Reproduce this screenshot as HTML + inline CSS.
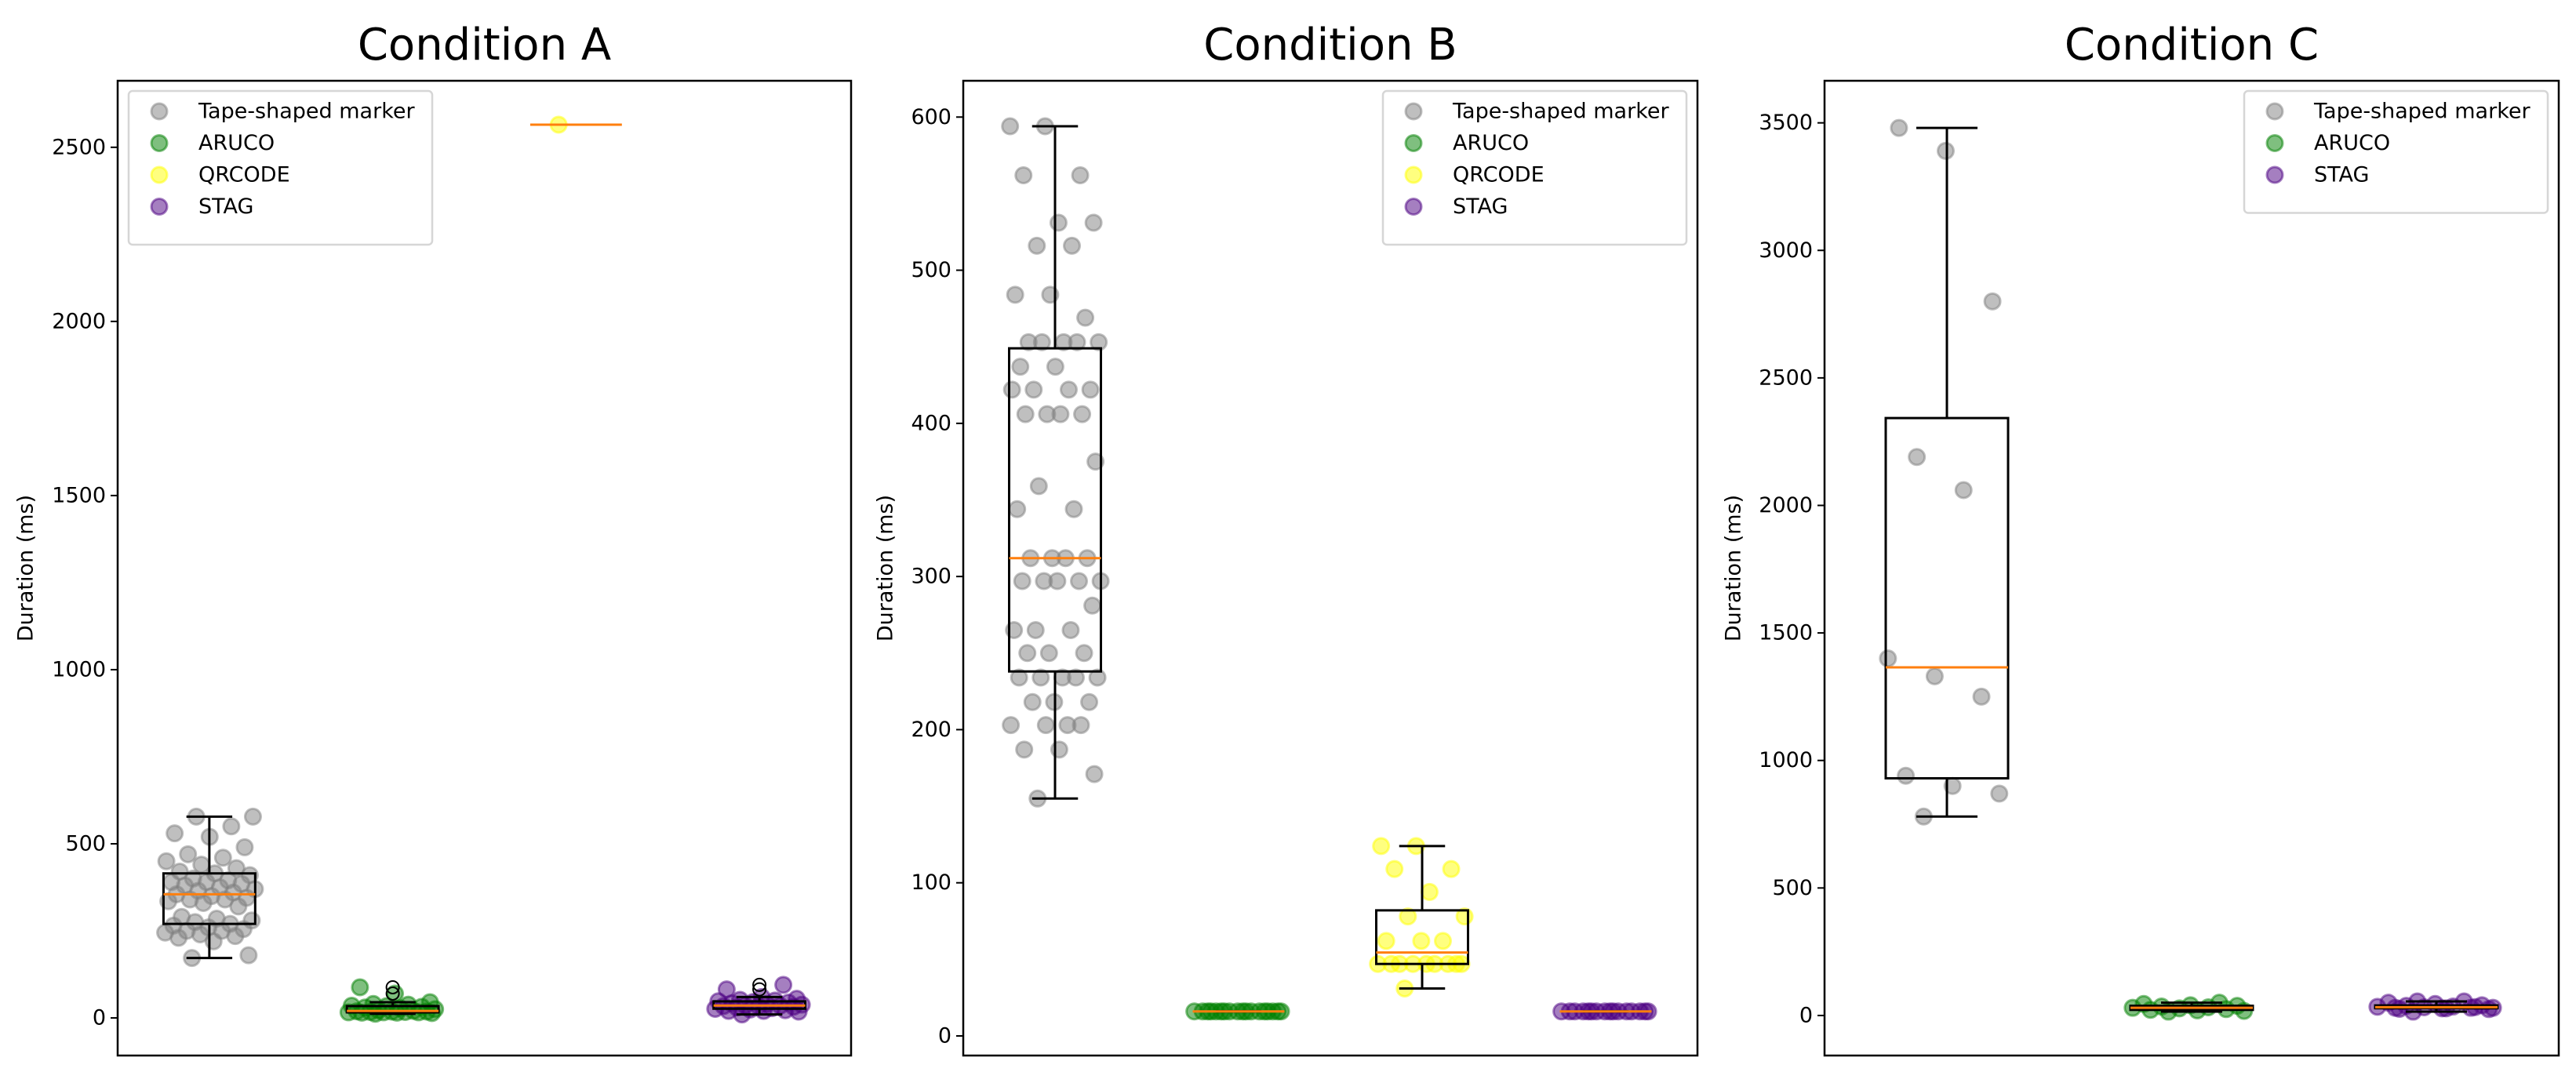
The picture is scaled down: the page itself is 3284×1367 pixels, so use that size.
<!DOCTYPE html>
<html><head><meta charset="utf-8"><style>
html,body{margin:0;padding:0;background:#fff;}
svg{display:block;font-family:"DejaVu Sans","Liberation Sans",sans-serif;}
</style></head><body>
<svg id="fig" width="3284" height="1367" viewBox="0 0 3284 1367" xmlns="http://www.w3.org/2000/svg">
<rect x="0" y="0" width="3284" height="1367" fill="#fff"/>
</svg>
<script>
// ---- data ----
const seriesNames = ["Tape-shaped marker","ARUCO","QRCODE","STAG"];
const seriesColors = ["128,128,128","0,128,0","255,255,0","75,0,130"];
const panelTitles = ["Condition A","Condition B","Condition C"];
const yTicksA = [0,500,1000,1500,2000,2500];
const yTicksB = [0,100,200,300,400,500,600];
const yTicksC = [0,500,1000,1500,2000,2500,3000,3500];
const yLimA = [-108,2691];
const yLimB = [-12.8,623.7];
const yLimC = [-157,3665];
const tapeA = [172,180,220,230,235,240,245,250,250,255,260,265,270,275,280,285,290,320,330,335,340,340,345,350,355,360,365,370,375,380,385,390,390,395,400,410,415,420,430,440,450,460,470,490,520,530,550,578,578];
const arucoA = [12,14,15,15,16,16,16,17,17,18,18,19,20,22,25,28,30,32,34,35,38,40,45,70,88];
const qrA = [2565];
const stagA = [10,18,20,20,22,24,26,28,30,32,33,34,35,36,38,40,42,44,46,48,50,52,55,60,82,95];
const tapeB = [155,171,187,187,203,203,203,203,218,218,218,234,234,234,234,234,250,250,250,265,265,265,281,297,297,297,297,297,312,312,312,312,344,344,359,375,406,406,406,406,422,422,422,422,437,437,453,453,453,453,453,469,484,484,516,516,531,531,562,562,594,594];
const arucoB = [16,16,16,16,16,16,16,16,16,16,16,16,16,16,16,16,16,16];
const qrB = [31,47,47,47,47,47,47,47,47,47,62,62,62,78,78,94,109,109,124,124];
const stagB = [16,16,16,16,16,16,16,16,16,16,16,16,16,16,16,16];
const tapeC = [780,870,900,940,1250,1330,1400,2060,2190,2800,3390,3480];
const arucoC = [15,18,20,22,25,28,30,32,35,38,40,45,50];
const stagC = [15,25,28,30,30,32,34,35,38,40,45,50,55,55,30,28,26,33];

// ---- layout ----
const NS="http://www.w3.org/2000/svg";
const svg=document.getElementById('fig');
function mk(tag,attrs,parent){const e=document.createElementNS(NS,tag);for(const k in attrs)e.setAttribute(k,attrs[k]);(parent||svg).appendChild(e);return e;}
const panels=[
 {rect:[150,103,1085,1346],ylim:yLimA,ticks:yTicksA,series:[tapeA,arucoA,qrA,stagA],idx:[0,1,2,3],legend:"left",ylab:33,key:"a"},
 {rect:[1228,103,2164,1346],ylim:yLimB,ticks:yTicksB,series:[tapeB,arucoB,qrB,stagB],idx:[0,1,2,3],legend:"right",ylab:1129,key:"b"},
 {rect:[2326,103,3262,1346],ylim:yLimC,ticks:yTicksC,series:[tapeC,arucoC,stagC],idx:[0,1,3],legend:"right",ylab:2210,key:"c"}
];
function pct(s,p){const pos=p*(s.length-1);const lo=Math.floor(pos),hi=Math.ceil(pos);return s[lo]+(s[hi]-s[lo])*(pos-lo);}
panels.forEach((P,pi)=>{
 const [x0,y0,x1,y1]=P.rect;
 const g=mk('g',{});
 
 
 const n=P.series.length;
 const xs=u=>x0+(u-0.5)/n*(x1-x0);
 const unit=(x1-x0)/n;
 const ys=v=>y1-(v-P.ylim[0])/(P.ylim[1]-P.ylim[0])*(y1-y0);
 const t=mk('text',{x:(x0+x1)/2,y:76,'font-size':56,'text-anchor':'middle',fill:'#000'},g);
 t.textContent=panelTitles[pi];
 
 
 const yl=mk('text',{x:P.ylab,y:(y0+y1)/2,'font-size':27,'text-anchor':'middle','dominant-baseline':'central',transform:`rotate(-90 ${P.ylab} ${(y0+y1)/2})`},g);
 yl.textContent="Duration (ms)";
 
 
 P.ticks.forEach(tv=>{
  const y=ys(tv);
  const tk=mk('line',{x1:x0-9,x2:x0,y1:y,y2:y,stroke:'#000','stroke-width':2},g);
  
  
  const tl=mk('text',{x:x0-15,y:y,'font-size':27,'text-anchor':'end','dominant-baseline':'central'},g);
  tl.textContent=String(tv);
  
  
 });
 P.series.forEach((vals,si)=>{
  const ci=P.idx[si];const col=seriesColors[ci];const cx=xs(si+1);
  const sg=mk('g',{},g);
  
  
  vals.forEach((v,i)=>{
   const off=(((i*0.618034+0.31)%1)-0.5)*0.5*unit;
   const c=mk('circle',{cx:cx+off,cy:ys(v),r:10,fill:`rgb(${col})`,'fill-opacity':0.5,stroke:`rgb(${col})`,'stroke-opacity':0.5,'stroke-width':3},sg);
   
   
  });
  const s=[...vals].sort((a,b)=>a-b);
  const q1=pct(s,0.25),q3=pct(s,0.75),med=pct(s,0.5),iqr=q3-q1;
  const inl=s.filter(v=>v>=q1-1.5*iqr&&v<=q3+1.5*iqr);
  const wlo=inl[0],whi=inl[inl.length-1];
  const bw=0.25*unit,cw=0.125*unit;
  const bg=mk('g',{stroke:'#000','stroke-width':3,fill:'none'},g);
  
  
  mk('line',{x1:cx,x2:cx,y1:ys(q3),y2:ys(whi)},bg);
  mk('line',{x1:cx,x2:cx,y1:ys(q1),y2:ys(wlo)},bg);
  mk('line',{x1:cx-cw,x2:cx+cw,y1:ys(whi),y2:ys(whi)},bg);
  mk('line',{x1:cx-cw,x2:cx+cw,y1:ys(wlo),y2:ys(wlo)},bg);
  mk('rect',{x:cx-bw,y:ys(q3),width:2*bw,height:Math.max(0,ys(q1)-ys(q3))},bg);
  mk('line',{x1:cx-bw,x2:cx+bw,y1:ys(med),y2:ys(med),stroke:'#ff7f0e'},bg);
  s.filter(v=>v<wlo||v>whi).forEach(v=>{
   const f=mk('circle',{cx:cx,cy:ys(v),r:8,stroke:'#000','stroke-width':2,fill:'none'},bg);
   
   
  });
 });
 const sp=mk('rect',{x:x0,y:y0,width:x1-x0,height:y1-y0,fill:'none',stroke:'#000','stroke-width':2.5},g);
 
 
 const rows=P.idx.length;const lw=387;const lh=34+rows*40.5;
 const lx=P.legend==="left"?x0+14:x1-14-lw;const ly=116;
 const lg=mk('g',{},g);
 
 
 mk('rect',{x:lx,y:ly,width:lw,height:lh,rx:5,fill:'#fff','fill-opacity':0.8,stroke:'#d6d6d6','stroke-width':2.5},lg);
 P.idx.forEach((ci,r)=>{
  const ry=ly+26+r*40.5;
  const e=mk('g',{},lg);
  
  
  mk('circle',{cx:lx+39,cy:ry,r:10,fill:`rgb(${seriesColors[ci]})`,'fill-opacity':0.5,stroke:`rgb(${seriesColors[ci]})`,'stroke-opacity':0.5,'stroke-width':3},e);
  const tx=mk('text',{x:lx+89,y:ry,'font-size':27,'dominant-baseline':'central'},e);
  tx.textContent=seriesNames[ci];
 });
});
</script>
</body></html>
